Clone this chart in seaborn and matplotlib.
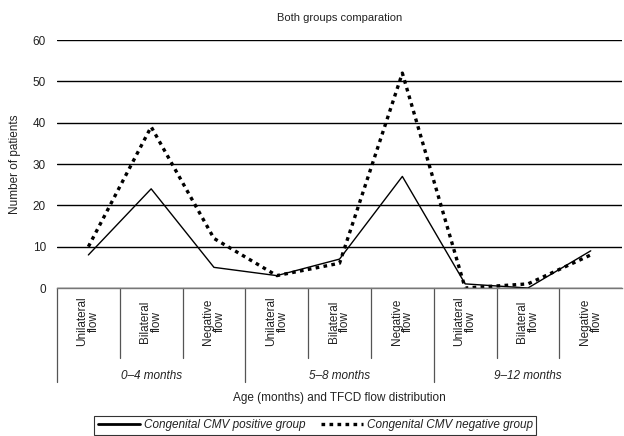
import pandas as pd
import matplotlib.pyplot as plt
import matplotlib.transforms as mtransforms
import seaborn as sns

# Values
flow_labels = ["Unilateral\nflow", "Bilateral\nflow", "Negative\nflow"] * 3
age_groups = ["0\u20134 months", "5\u20138 months", "9\u201312 months"]
cmv_positive = [8, 24, 5, 3, 7, 27, 1, 0, 9]
cmv_negative = [10, 39, 12, 3, 6, 52, 0, 1, 8]
y_ticks = [0, 10, 20, 30, 40, 50, 60]

pos_name = "Congenital CMV positive group"
neg_name = "Congenital CMV negative group"

df = pd.DataFrame({
    "pos": list(range(len(flow_labels))) * 2,
    "patients": cmv_positive + cmv_negative,
    "group": [pos_name] * len(cmv_positive) + [neg_name] * len(cmv_negative),
})

sns.set_style("white")
plt.rcParams["font.family"] = ["Liberation Sans", "DejaVu Sans"]

fig = plt.figure(figsize=(6.24, 4.36), dpi=100)
ax = fig.add_axes([0.0913, 0.3394, 0.9057, 0.5688])

sns.lineplot(data=df[df.group == pos_name], x="pos", y="patients",
             color="black", lw=1.0, ax=ax, label=pos_name)
sns.lineplot(data=df[df.group == neg_name], x="pos", y="patients",
             color="black", lw=2.4, ax=ax, label=neg_name,
             linestyle=(0, (1.1, 1.3)))

ax.set_xlim(-0.5, 8.5)
ax.set_ylim(0, 60)
ax.set_yticks(y_ticks)
ax.tick_params(axis="y", length=0, labelsize=8.5, pad=8, colors="#222222")
ax.set_xticks([])
ax.set_xlabel("")
ax.set_ylabel("Number of patients", fontsize=8.5, color="#222222", labelpad=8)
ax.yaxis.grid(True, color="black", lw=1.0)
ax.set_axisbelow(True)
for side in ["top", "left", "right"]:
    ax.spines[side].set_visible(False)
ax.spines["bottom"].set_color("#777777")
ax.spines["bottom"].set_linewidth(1.0)

ax.set_title("Both groups comparation", fontsize=8, color="#222222", pad=14)

# table-like category axis under the plot
trans = mtransforms.blended_transform_factory(ax.transData, ax.transAxes)
for i in range(len(flow_labels)):
    edge = i - 0.5
    bottom = -0.379 if i % 3 == 0 else -0.282
    ax.plot([edge, edge], [0, bottom], color="#555555", lw=0.9,
            transform=trans, clip_on=False)
    ax.text(i, -0.135, flow_labels[i], rotation=90, ha="center", va="center",
            fontsize=8.5, color="#222222", linespacing=0.95, transform=trans)
for g, name in enumerate(age_groups):
    ax.text(3 * g + 1, -0.355, name, ha="center", va="center", fontsize=8.5,
            style="italic", color="#222222", transform=trans)
ax.text(4, -0.445, "Age (months) and TFCD flow distribution", ha="center",
        va="center", fontsize=8.5, color="#222222", transform=trans)

ax.get_legend().remove()
handles, labels = ax.get_legend_handles_labels()
leg = fig.legend(handles, labels, loc="lower center", ncol=2,
                 bbox_to_anchor=(0.505, 0.003), fontsize=8.5, frameon=True,
                 fancybox=False, edgecolor="black", handlelength=3.6,
                 handletextpad=0.3, columnspacing=1.3, borderpad=0.3,
                 borderaxespad=0.0)
leg.get_frame().set_linewidth(0.8)
leg.legend_handles[0].set_linewidth(2.0)
for t in leg.get_texts():
    t.set_style("italic")
    t.set_color("#222222")

fig.savefig("out.png", dpi=100)
